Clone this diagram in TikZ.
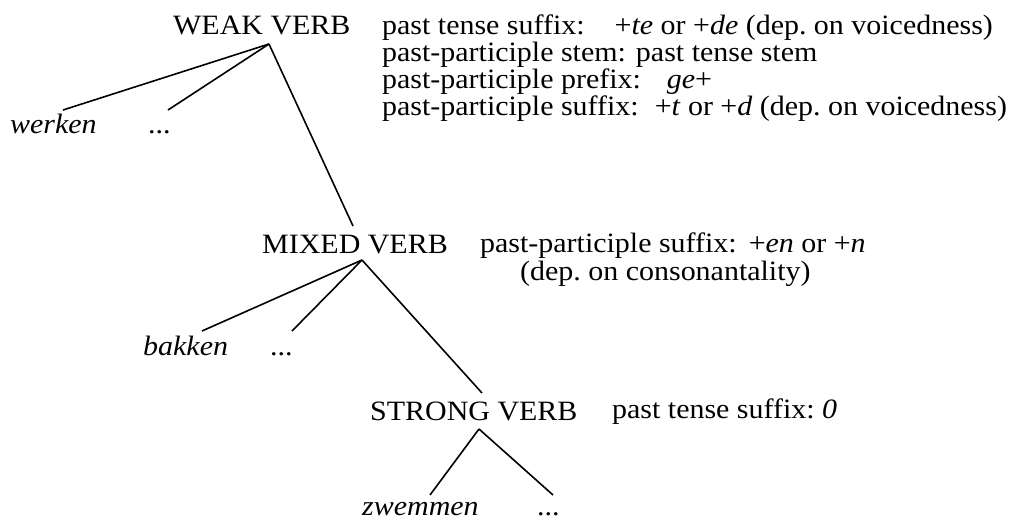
\documentclass[tikz,border=0pt]{standalone}
\usepackage{fontspec}
\setmainfont{Liberation Serif}[FakeStretch=1.07]
\frenchspacing
\begin{document}
\begin{tikzpicture}[x=1pt,y=-1pt,
  lab/.style={inner sep=0pt, anchor=base west, font=\fontsize{28}{30}\selectfont},
  leaf/.style={inner sep=0pt, anchor=base west, font=\fontsize{28}{30}\selectfont\itshape},
  ann/.style={inner sep=0pt, anchor=base west, font=\fontsize{28}{28}\selectfont},
  branch/.style={line width=1.6pt}]
\useasboundingbox (0,0) rectangle (1025,520);

% nodes
\node[lab] (weak) at (173,34) {WEAK VERB};
\node[leaf] (werken) at (10,133) {werken};
\node[lab] (wdots) at (148,133) {...};
\node[lab] (mixed) at (262,253) {MIXED VERB};
\node[leaf] (bakken) at (143,355) {bakken};
\node[lab] (bdots) at (270,355) {...};
\node[lab] (strong) at (370,420) {STRONG VERB};
\node[leaf] (zwemmen) at (362,515) {zwemmen};
\node[lab] (zdots) at (537,515) {...};

% annotations
\node[ann] (wa1) at (382,34) {past tense suffix:\hspace{30pt}+\textit{te} or +\textit{de} (dep. on voicedness)};
\node[ann] (wa2) at (382,61) {past-participle stem:\hspace{10pt}past tense stem};
\node[ann] (wa3) at (382,88) {past-participle prefix:\hspace{26pt}\textit{ge}+};
\node[ann] (wa4) at (382,115) {past-participle suffix:\hspace{16pt}+\textit{t} or +\textit{d} (dep. on voicedness)};
\node[ann] (ma1) at (480,252) {past-participle suffix:\hspace{12pt}+\textit{en} or +\textit{n}};
\node[ann] (ma2) at (520,280) {(dep. on consonantality)};
\node[ann] (sa1) at (612,418) {past tense suffix: \textit{0}};

% branches
\draw[branch] ([shift={(96,10)}]weak.base west) -- ([shift={(53,-23)}]werken.base west);
\draw[branch] ([shift={(96,10)}]weak.base west) -- ([shift={(20,-23)}]wdots.base west);
\draw[branch] ([shift={(96,10)}]weak.base west) -- ([shift={(91,-27)}]mixed.base west);
\draw[branch] ([shift={(100,7)}]mixed.base west) -- ([shift={(59,-24)}]bakken.base west);
\draw[branch] ([shift={(100,7)}]mixed.base west) -- ([shift={(22,-24)}]bdots.base west);
\draw[branch] ([shift={(100,7)}]mixed.base west) -- ([shift={(112,-27)}]strong.base west);
\draw[branch] ([shift={(109,9)}]strong.base west) -- ([shift={(68,-20)}]zwemmen.base west);
\draw[branch] ([shift={(109,9)}]strong.base west) -- ([shift={(16,-20)}]zdots.base west);
\end{tikzpicture}
\end{document}
